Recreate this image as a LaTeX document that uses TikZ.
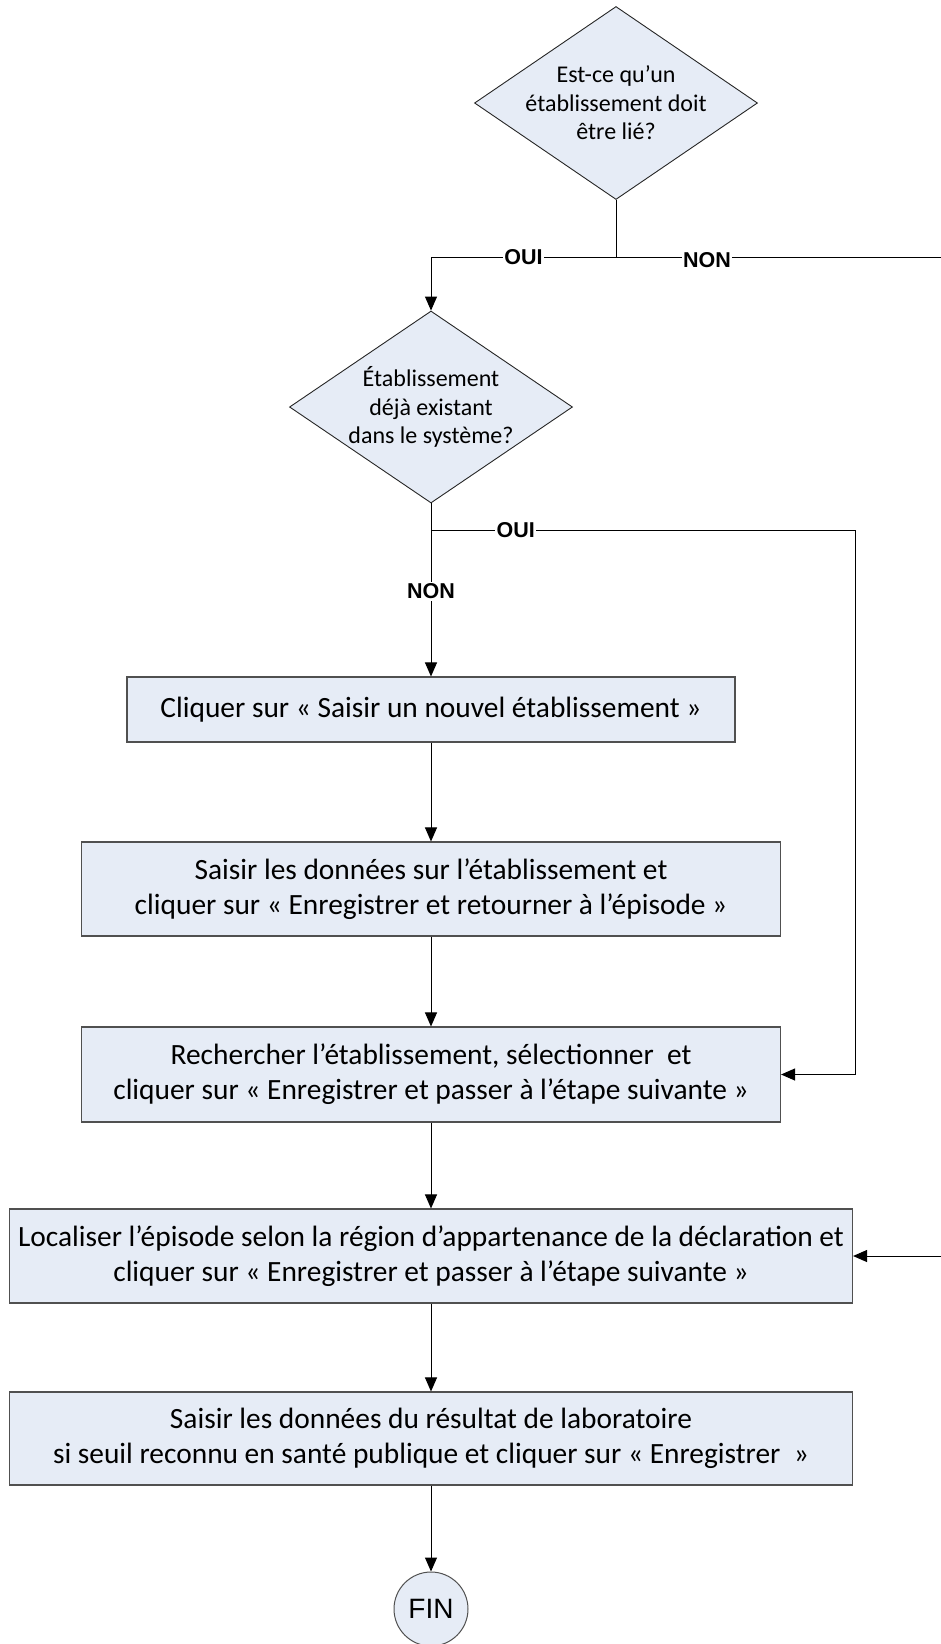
\documentclass[tikz,border=0pt]{standalone}
\usepackage{fontspec}
\setmainfont{Carlito}
\newfontfamily\arialfont{Liberation Sans}
\usetikzlibrary{arrows.meta,positioning,shapes.geometric}
\definecolor{BoxFill}{HTML}{E6ECF6}
\definecolor{BoxLine}{HTML}{505050}
\tikzset{
  stepbox/.style={draw=BoxLine, line width=1.1pt, fill=BoxFill, align=center,
    inner sep=0pt, font=\fontsize{29.4}{35}\selectfont},
  decision/.style={diamond, draw=black!85, line width=0.9pt, fill=BoxFill,
    inner sep=0pt, minimum width=283pt, minimum height=193pt},
  dtext/.style={align=center, font=\fontsize{24}{28.5}\selectfont},
  arr/.style={-{Triangle[length=14pt,width=12pt]}, line width=1pt},
  conn/.style={line width=1pt},
  lbl/.style={fill=white, inner sep=1.5pt,
    font=\arialfont\bfseries\fontsize{21.5}{21.5}\selectfont},
}
\begin{document}
\begin{tikzpicture}[x=1pt, y=-1pt]
  \useasboundingbox (0,0) rectangle (940,1644);

  \node[decision] (d1) at (616,103) {};
  \node[dtext] (d1t) at (d1) {Est-ce qu’un\\établissement doit\\être lié?};
  \node[decision, minimum height=192pt] (d2) at (431,407) {};
  \node[dtext] (d2t) at (d2) {Établissement\\déjà existant\\dans le système?};

  \node[stepbox, minimum width=608pt, minimum height=65pt] (b1) at (431,709.5)
    {Cliquer sur « Saisir un nouvel établissement »};
  \node[stepbox, minimum width=699pt, minimum height=94pt] (b2) at (431,889)
    {Saisir les données sur l’établissement et\\
     cliquer sur « Enregistrer et retourner à l’épisode »};
  \node[stepbox, minimum width=699pt, minimum height=95pt] (b3) at (431,1074.5)
    {Rechercher l’établissement, sélectionner~ et\\
     cliquer sur « Enregistrer et passer à l’étape suivante »};
  \node[stepbox, minimum width=843pt, minimum height=94pt] (b4) at (431,1256)
    {Localiser l’épisode selon la région d’appartenance de la déclaration et\\
     cliquer sur « Enregistrer et passer à l’étape suivante »};
  \node[stepbox, minimum width=843pt, minimum height=93pt] (b5) at (431,1438.5)
    {Saisir les données du résultat de laboratoire\\
     si seuil reconnu en santé publique et cliquer sur « Enregistrer~ »};
  \node[circle, draw=BoxLine, line width=1pt, fill=BoxFill, minimum size=74pt,
    inner sep=0pt, font=\arialfont\fontsize{28}{28}\selectfont] (fin) at (431,1609) {FIN};

  \coordinate (j1) at (616,257);
  \coordinate (j2) at (431,530);
  \coordinate (oc) at (855,530);
  \coordinate (ea) at (941,257);
  \coordinate (eb) at (941,1256);

  \draw[conn] (d1.south) -- (j1);
  \draw[arr] (j1) -- node[lbl] (oui1) {OUI} (j1 -| d2) -- (d2.north);
  \draw[conn] (j1) -- node[lbl, pos=0.28, yshift=-3pt] (non1) {NON} (ea);
  \draw[conn] (d2.south) -- (j2);
  \draw[arr] (j2) -- node[lbl, pos=0.42] (non2) {NON} (b1.north);
  \draw[arr] (j2) -- node[lbl, pos=0.2] (oui2) {OUI} (oc) |- (b3.east);
  \draw[arr] (b1) -- (b2);
  \draw[arr] (b2) -- (b3);
  \draw[arr] (b3) -- (b4);
  \draw[arr] (eb) -- (b4.east);
  \draw[arr] (b4) -- (b5);
  \draw[arr] (b5) -- (fin);
\end{tikzpicture}
\end{document}
